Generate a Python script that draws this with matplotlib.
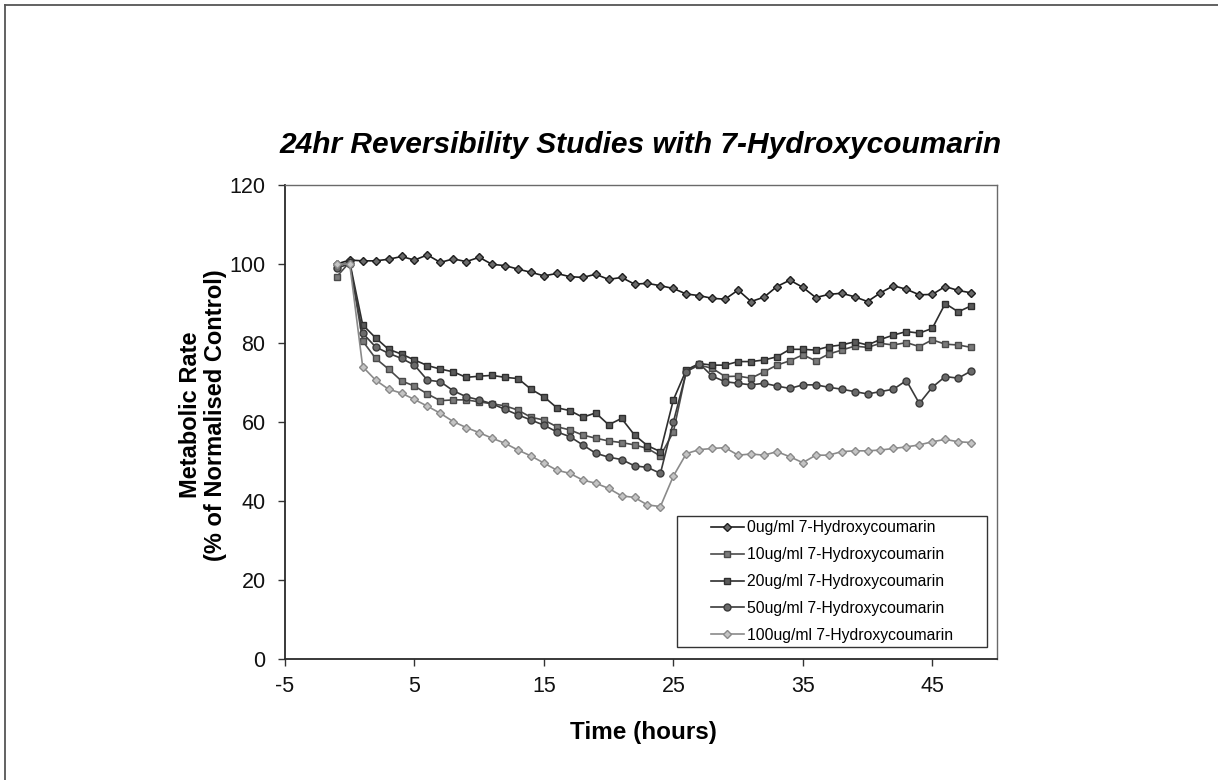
import matplotlib
matplotlib.use("Agg")
import matplotlib.pyplot as plt
from matplotlib.lines import Line2D
from matplotlib.patches import Rectangle

plt.rcParams['font.family'] = ['Liberation Sans', 'DejaVu Sans']
plt.rcParams['axes.unicode_minus'] = False

# ---------------------------------
# data
# ---------------------------------
# time in hours, one reading per hour
hours = list(range(-1, 49))

rate_0 = [100, 101, 100.8, 100.8, 101.2, 101.9, 101, 102.3, 100.4, 101.3,
          100.6, 101.7, 99.9, 99.6, 98.7, 97.9, 97, 97.6, 96.8, 96.6,
          97.4, 96.1, 96.6, 94.9, 95.1, 94.5, 93.8, 92.4, 92, 91.3,
          91.1, 93.4, 90.5, 91.6, 94.3, 95.9, 94.1, 91.5, 92.3, 92.6,
          91.7, 90.5, 92.7, 94.5, 93.6, 92.2, 92.3, 94.3, 93.3, 92.7]

rate_10 = [96.8, 100.5, 80.5, 76.1, 73.4, 70.4, 69.1, 67.1, 65.4, 65.6,
           65.6, 65.1, 64.6, 64.1, 63, 61.2, 60.5, 58.8, 58, 56.7,
           55.9, 55.2, 54.8, 54.2, 53.3, 51.4, 57.5, 72.8, 74.4, 73.6,
           71.5, 71.6, 71.1, 72.7, 74.4, 75.5, 77, 75.5, 77.2, 78.2,
           79.2, 78.9, 79.9, 79.5, 80.1, 79.1, 80.8, 79.7, 79.5, 78.9]

rate_20 = [99.5, 100.5, 84.6, 81.3, 78.4, 77.2, 75.7, 74.3, 73.4, 72.7,
           71.3, 71.6, 71.8, 71.3, 71, 68.3, 66.4, 63.6, 62.9, 61.2,
           62.3, 59.3, 60.9, 56.7, 54, 52.5, 65.6, 73.2, 74.8, 74.4,
           74.4, 75.3, 75.3, 75.7, 76.5, 78.4, 78.4, 78.2, 79.1, 79.5,
           80.3, 79.5, 80.9, 82, 82.9, 82.5, 83.7, 90, 87.9, 89.4]

rate_50 = [99, 100, 82.5, 79, 77.4, 76.1, 74.4, 70.6, 70.2, 67.9,
           66.4, 65.6, 64.6, 63.2, 61.8, 60.5, 59.2, 57.5, 56.3, 54.2,
           52.1, 51.1, 50.5, 48.9, 48.5, 47, 60, 72.7, 74.8, 71.6,
           70.2, 69.8, 69.4, 69.8, 69.1, 68.5, 69.4, 69.4, 68.8, 68.3,
           67.7, 67.1, 67.7, 68.3, 70.5, 64.7, 68.8, 71.5, 71.1, 72.9]

rate_100 = [100, 100, 74, 70.6, 68.3, 67.3, 65.7, 64, 62.2, 60.1,
            58.6, 57.3, 55.9, 54.6, 52.9, 51.4, 49.6, 47.8, 47, 45.3,
            44.5, 43.2, 41.3, 40.9, 39, 38.6, 46.3, 52, 53, 53.3,
            53.5, 51.6, 51.9, 51.6, 52.5, 51.2, 49.7, 51.6, 51.6, 52.5,
            52.7, 52.7, 52.9, 53.3, 53.7, 54.2, 55, 55.6, 55, 54.8]

labels = ["0ug/ml 7-Hydroxycoumarin", "10ug/ml 7-Hydroxycoumarin",
          "20ug/ml 7-Hydroxycoumarin", "50ug/ml 7-Hydroxycoumarin",
          "100ug/ml 7-Hydroxycoumarin"]
series = [rate_0, rate_10, rate_20, rate_50, rate_100]

x_ticks = [-5, 5, 15, 25, 35, 45]
y_ticks = [0, 20, 40, 60, 80, 100, 120]

# ---------------------------------
# styles
# ---------------------------------
line_colors = ['#1e1e1e', '#4a4a4a', '#2e2e2e', '#3a3a3a', '#8a8a8a']
face_colors = ['#6a6a6a', '#7a7a7a', '#5a5a5a', '#6a6a6a', '#c4c4c4']
markers = ['D', 's', 's', 'o', 'D']
sizes = [4.5, 5, 5, 5, 4.5]

fig = plt.figure(figsize=(12.18, 7.8), dpi=100)
ax = fig.add_axes([285 / 1218, 1 - 659 / 780, 712 / 1218, 474 / 780])

for y, lab, c, fc, m, s in zip(series, labels, line_colors, face_colors, markers, sizes):
    ax.plot(hours, y, color=c, lw=1.2, marker=m, markersize=s,
            markerfacecolor=fc, markeredgecolor=c, markeredgewidth=1.0, label=lab)

ax.set_xlim(-5, 50)
ax.set_ylim(0, 120)
ax.set_xticks(x_ticks)
ax.set_yticks(y_ticks)
ax.tick_params(axis='both', direction='out', length=5, width=1, colors='#333333',
               labelsize=15.5, labelcolor='#111111')
ax.tick_params(axis='y', pad=9)
ax.tick_params(axis='x', pad=7)

for side in ['left', 'bottom']:
    ax.spines[side].set_color('#2a2a2a')
    ax.spines[side].set_linewidth(1.3)
for side in ['top', 'right']:
    ax.spines[side].set_color('#6a6a6a')
    ax.spines[side].set_linewidth(1.0)

# legend: Excel-style box with wide side margins
box_x0, box_y0 = (677 - 285) / 712, (659 - 647) / 474
box_w, box_h = 310 / 712, 131 / 474
ax.add_patch(Rectangle((box_x0, box_y0), box_w, box_h, transform=ax.transAxes,
                       facecolor='white', edgecolor='#333333', lw=1.0, zorder=4))
leg = ax.legend(loc='center', bbox_to_anchor=(box_x0 + box_w / 2, box_y0 + box_h / 2),
                fontsize=11.3, frameon=False, handlelength=2.1, handletextpad=0.2,
                labelspacing=0.75, borderpad=0)
leg.set_zorder(5)

# ---------------------------------
# texts
# ---------------------------------
fig.text(641 / 1218, 1 - 145 / 780, "24hr Reversibility Studies with 7-Hydroxycoumarin",
         ha='center', va='center', fontsize=21.5, fontweight='bold', fontstyle='italic')
fig.text(643 / 1218, 1 - 733 / 780, "Time (hours)", ha='center', va='center',
         fontsize=17.5, fontweight='bold')
fig.text(203 / 1218, 1 - 415 / 780, "Metabolic Rate\n(% of Normalised Control)",
         ha='center', va='center', rotation=90, multialignment='center',
         fontsize=17, fontweight='bold', linespacing=1.1)

# page frame of the scanned sheet
fig.add_artist(Line2D([5 / 1218, 1], [1 - 5 / 780, 1 - 5 / 780], color='#555555', lw=1.3))
fig.add_artist(Line2D([5 / 1218, 5 / 1218], [0, 1 - 5 / 780], color='#555555', lw=1.3))

fig.savefig("out.png", dpi=100)
